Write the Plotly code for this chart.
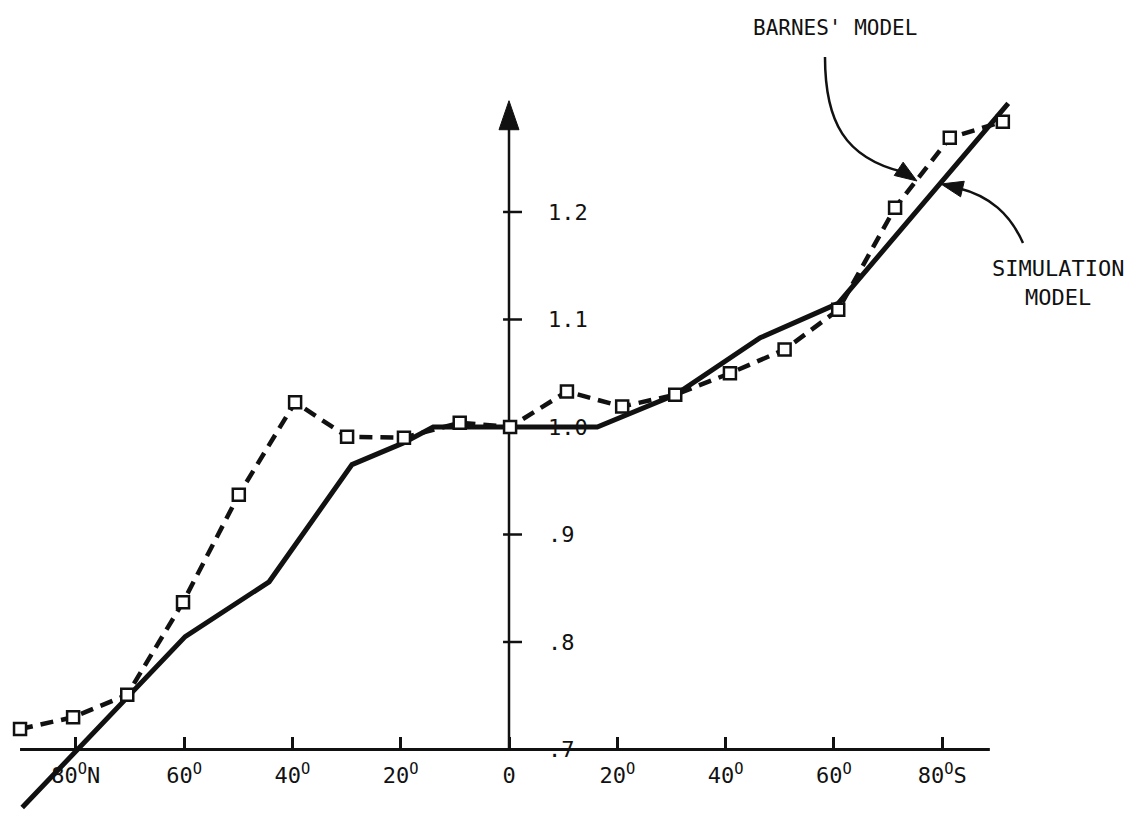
import math
import plotly.graph_objects as go

# ---------------- data (latitude: negative = North, positive = South) ----------------
barnes_lat = [-90.3, -80.5, -70.5, -60.2, -49.9, -39.5, -29.9, -19.4, -9.1, 0.2,
              10.7, 20.9, 30.7, 40.8, 50.9, 60.8, 71.3, 81.4, 91.2]
barnes_val = [0.719, 0.730, 0.751, 0.837, 0.937, 1.023, 0.991, 0.990, 1.004, 1.000,
              1.033, 1.019, 1.030, 1.050, 1.072, 1.109, 1.204, 1.269, 1.284]

sim_lat = [-89.9, -59.8, -44.3, -29.0, -19.6, -14.0, 16.3, 30.7, 46.4, 60.8, 92.2]
sim_val = [0.646, 0.805, 0.856, 0.965, 0.985, 1.000, 1.000, 1.030, 1.083, 1.115, 1.301]

x_tickvals = [-80, -60, -40, -20, 0, 20, 40, 60, 80]
x_ticktext = ["80<sup>O</sup>N", "60<sup>O</sup>", "40<sup>O</sup>", "20<sup>O</sup>", "0",
              "20<sup>O</sup>", "40<sup>O</sup>", "60<sup>O</sup>", "80<sup>O</sup>S"]
y_tickvals = [0.7, 0.8, 0.9, 1.0, 1.1, 1.2]
y_ticktext = [".7", ".8", ".9", "1.0", "1.1", "1.2"]

# ---------------- layout geometry ----------------
W, H = 1144, 814
X_RANGE = [-94.0, 117.27]
Y_RANGE = [0.640, 1.3972]
X_AXIS_START, X_AXIS_END = -90.3, 88.8
Y_AXIS_TOP = 1.3035
FONT = "DejaVu Sans Mono, Liberation Mono, monospace"
INK = "#111111"


def paper_x(v):
    return (v - X_RANGE[0]) / (X_RANGE[1] - X_RANGE[0])


def paper_y(v):
    return (v - Y_RANGE[0]) / (Y_RANGE[1] - Y_RANGE[0])


def px2paper(x, y):
    return x / W, 1 - y / H


def path_px(points, cmd):
    out = []
    for c, pts in zip(cmd, points):
        coords = []
        for (x, y) in pts:
            px_, py_ = px2paper(x, y)
            coords.append(f"{px_:.5f},{py_:.5f}")
        out.append(c + " " + " ".join(coords))
    return " ".join(out)


def tri_px(tip, frm, L=18, Wd=7):
    tx, ty = tip
    dx, dy = tx - frm[0], ty - frm[1]
    n = math.hypot(dx, dy)
    dx, dy = dx / n, dy / n
    bx, by = tx - L * dx, ty - L * dy
    nx, ny = -dy, dx
    p1 = (bx + Wd * nx, by + Wd * ny)
    p2 = (bx - Wd * nx, by - Wd * ny)
    return path_px([[tip], [p1], [p2]], ["M", "L", "L"]) + " Z"


fig = go.Figure()

# y-axis tick crosses
tx, ty = [], []
for v in y_tickvals[1:]:
    tx += [-1.1, 2.4, None]
    ty += [v, v, None]
fig.add_trace(go.Scatter(x=tx, y=ty, mode="lines", line=dict(color=INK, width=2.5),
                         hoverinfo="skip", showlegend=False))

# Simulation model (solid)
fig.add_trace(go.Scatter(x=sim_lat, y=sim_val, mode="lines", name="SIMULATION MODEL",
                         line=dict(color=INK, width=5), showlegend=False))

# Barnes' model (dashed, open squares)
fig.add_trace(go.Scatter(x=barnes_lat, y=barnes_val, mode="lines+markers", name="BARNES' MODEL",
                         line=dict(color=INK, width=4.5, dash="13px,8px"),
                         marker=dict(symbol="square", size=12, color="white",
                                     line=dict(color=INK, width=2.5)),
                         showlegend=False))

shapes = []
shapes.append(dict(type="line", xref="x", yref="y", x0=X_AXIS_START, x1=X_AXIS_END,
                   y0=0.7, y1=0.7, line=dict(color=INK, width=3), layer="below"))
shapes.append(dict(type="line", xref="x", yref="y", x0=0, x1=0, y0=0.7, y1=Y_AXIS_TOP - 0.02,
                   line=dict(color=INK, width=2.5), layer="below"))
ax_px = W * paper_x(0)
tip_py = H * (1 - paper_y(Y_AXIS_TOP))
shapes.append(dict(type="path", xref="paper", yref="paper",
                   path=tri_px((ax_px, tip_py), (ax_px, tip_py + 10), L=29, Wd=10),
                   fillcolor=INK, line=dict(color=INK, width=1)))

# Barnes' pointer arrow
shapes.append(dict(type="path", xref="paper", yref="paper",
                   path=path_px([[(825, 57)], [(825, 122), (845, 158), (903, 172)]], ["M", "C"]),
                   line=dict(color=INK, width=2.5)))
shapes.append(dict(type="path", xref="paper", yref="paper",
                   path=tri_px((917, 181), (893, 165), L=22, Wd=8),
                   fillcolor=INK, line=dict(color=INK, width=1)))
# Simulation pointer arrow
shapes.append(dict(type="path", xref="paper", yref="paper",
                   path=path_px([[(1023, 243)], [(1010, 214), (990, 196), (958, 188)]], ["M", "C"]),
                   line=dict(color=INK, width=2.5)))
shapes.append(dict(type="path", xref="paper", yref="paper",
                   path=tri_px((941, 184), (975, 192), L=22, Wd=8),
                   fillcolor=INK, line=dict(color=INK, width=1)))

annotations = [
    dict(text="BARNES' MODEL", xref="paper", yref="paper",
         x=835 / W, y=1 - 28 / H, showarrow=False, xanchor="center", yanchor="middle",
         font=dict(family=FONT, size=21, color=INK)),
    dict(text="SIMULATION<br>MODEL", xref="paper", yref="paper",
         x=1058 / W, y=1 - 283 / H, showarrow=False, xanchor="center", yanchor="middle",
         align="center", font=dict(family=FONT, size=22, color=INK)),
]

fig.update_layout(
    width=W, height=H,
    margin=dict(l=0, r=0, t=0, b=0),
    paper_bgcolor="white", plot_bgcolor="white",
    shapes=shapes, annotations=annotations,
    xaxis=dict(range=X_RANGE, showgrid=False, zeroline=False, showline=False,
               anchor="free", position=paper_y(0.7),
               tickvals=x_tickvals, ticktext=x_ticktext,
               ticks="inside", ticklen=12, tickwidth=2.5, tickcolor=INK,
               ticklabelstandoff=11,
               tickfont=dict(family=FONT, size=22, color=INK)),
    yaxis=dict(range=Y_RANGE, showgrid=False, zeroline=False, showline=False,
               anchor="free", position=paper_x(0), side="right",
               tickvals=y_tickvals, ticktext=y_ticktext, ticks="",
               ticklabelstandoff=38,
               tickfont=dict(family=FONT, size=22, color=INK)),
)

fig.write_html("out.html", config={"displayModeBar": False},
               post_script="document.body.style.margin='0';")
